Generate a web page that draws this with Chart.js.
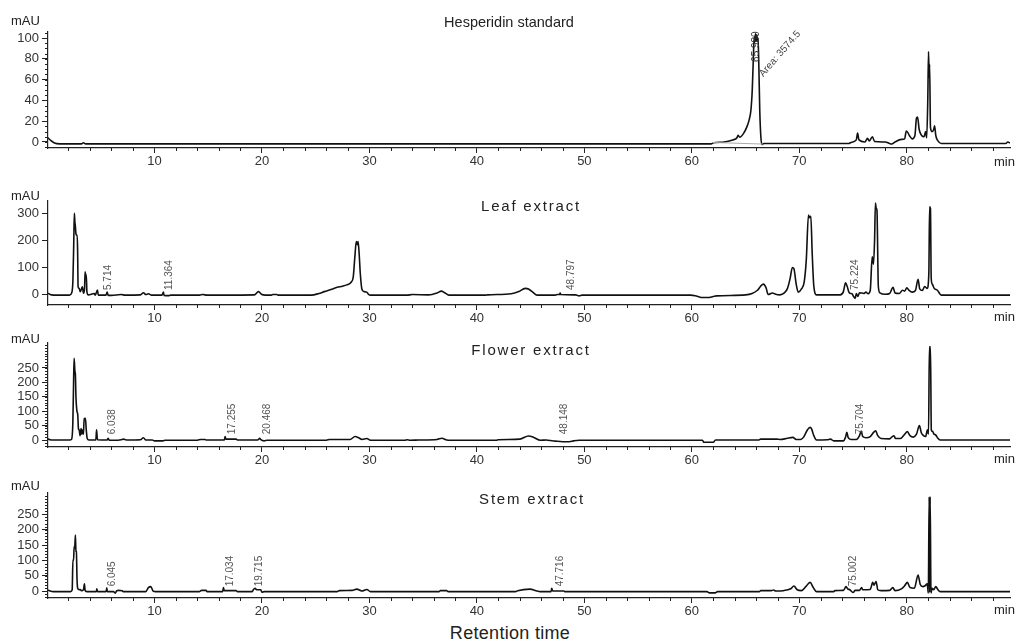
<!DOCTYPE html>
<html>
<head>
<meta charset="utf-8">
<script src="https://cdn.jsdelivr.net/npm/chart.js@4.4.1/dist/chart.umd.min.js"></script>
<style>
html, body { margin: 0; padding: 0; background: #fff; }
#wrap { position: relative; width: 1016px; height: 644px; overflow: hidden; font-family: 'Liberation Sans', Arial, sans-serif; color: #222; }
#wrap canvas { position: absolute; left: 0; }
.ttl { position: absolute; font-size: 15px; line-height: 15px; letter-spacing: 1.8px; transform: translateX(-50%); white-space: nowrap; }
.unit { position: absolute; left: 11px; font-size: 13px; line-height: 13px; }
.min { position: absolute; left: 994px; font-size: 13px; line-height: 13px; }
.xlabel { position: absolute; font-size: 18px; line-height: 18px; letter-spacing: 0.3px; transform: translateX(-50%); white-space: nowrap; }
</style>
</head>
<body>
<div id="wrap">
  <canvas id="c1" width="1016" height="150" style="top:20px"></canvas>
  <canvas id="c2" width="1016" height="138" style="top:189px"></canvas>
  <canvas id="c3" width="1016" height="138" style="top:331px"></canvas>
  <canvas id="c4" width="1016" height="139" style="top:481px"></canvas>

  <div class="ttl" style="left:509px;top:15px;font-size:14.5px;letter-spacing:0">Hesperidin standard</div>
  <div class="ttl" style="left:531px;top:198px">Leaf extract</div>
  <div class="ttl" style="left:531px;top:342px">Flower extract</div>
  <div class="ttl" style="left:532px;top:491px">Stem extract</div>

  <div class="unit" style="top:14px">mAU</div>
  <div class="unit" style="top:189px">mAU</div>
  <div class="unit" style="top:332px">mAU</div>
  <div class="unit" style="top:479px">mAU</div>

  <div class="min" style="top:155px">min</div>
  <div class="min" style="top:310px">min</div>
  <div class="min" style="top:452px">min</div>
  <div class="min" style="top:603px">min</div>

  <div class="xlabel" style="left:510px;top:624px">Retention time</div>
</div>

<script>
// ——— DATA ———
// retention time axis (min)
const xMin = 0.1, xMax = 89.6;
const xMajorTicks = [10, 20, 30, 40, 50, 60, 70, 80];

// y tick labels per panel (mAU)
const hespYTicks = [0, 20, 40, 60, 80, 100];
const leafYTicks = [0, 100, 200, 300];
const flowerYTicks = [0, 50, 100, 150, 200, 250];
const stemYTicks = [0, 50, 100, 150, 200, 250];

// traces: [time (min), absorbance (mAU)]
const hesperidinTrace = [
    [0.1, 4], [0.35, 1.5], [0.7, -1], [1.2, -1.8], [3.2, -1.8], [3.4, -0.8], [3.6, -1.8], [20, -1.8], [40, -1.8],
    [61.8, -1.8], [62.0, -0.8], [63.0, 0], [63.8, 2], [64.2, 4], [64.3, 6.5], [64.45, 4.5], [64.8, 8], [65.1, 14],
    [65.35, 22], [65.5, 31], [65.62, 50], [65.72, 80], [65.8, 101], [65.86, 96], [65.92, 104], [65.98, 97],
    [66.04, 103], [66.1, 98], [66.16, 100], [66.24, 70], [66.32, 30], [66.42, 5], [66.52, -2.5], [66.7, -1.5],
    [74.6, -1.5], [74.8, -0.5], [75.3, 2], [75.42, 8.5], [75.55, 2], [76.1, 0], [76.35, 3.5], [76.5, 1], [76.8, 5],
    [77.0, 0.5], [78.0, 0], [78.4, -1.5], [78.6, -2], [78.9, 0], [79.5, 2.5], [79.8, 3], [79.95, 10.5], [80.1, 9],
    [80.25, 6], [80.5, 3], [80.75, 6], [80.9, 23], [81.0, 24], [81.15, 12], [81.4, 6], [81.6, 5], [81.75, 10],
    [81.85, 4], [81.95, 40], [82.02, 87], [82.08, 62], [82.12, 75], [82.2, 14], [82.35, 10], [82.5, 12],
    [82.58, 15.5], [82.7, 6], [82.9, 1], [83.2, -1.5], [89.2, -1.5], [89.4, 0], [89.6, -1]
];
// grey integration baseline under the hesperidin peak
const hespBaseline = [[61.9, -0.5], [66.6, -2]];

const leafTrace = [
    [0.1, 4], [0.3, -1], [0.6, -3], [2.1, -3], [2.3, 5], [2.42, 53], [2.5, 200], [2.55, 301], [2.6, 270], [2.65, 252],
    [2.7, 225], [2.76, 220], [2.82, 220], [2.86, 150], [2.9, 28], [3.0, 22], [3.1, 10], [3.2, 18], [3.3, 28],
    [3.4, 4], [3.5, 20], [3.55, 84], [3.62, 70], [3.66, 73], [3.72, 10], [3.85, -2], [4.4, 3], [4.5, -3],
    [4.7, 16], [4.78, -3], [5.5, -3], [5.6, 8], [5.7, -4], [6.0, -4], [6.9, -1], [7.3, -3], [8.7, -2], [8.98, 6],
    [9.2, -1], [9.45, 2], [9.7, -3], [10.7, -3], [10.84, 8], [10.9, -4], [11.3, -5], [11.5, -3], [14.2, -3],
    [14.5, -1], [14.9, -3], [16.5, -3], [19.3, -2], [19.68, 10], [20.0, -1], [20.3, -3], [20.9, -3], [21.0, -1],
    [21.4, -1], [21.5, -3], [24.6, -3], [25.3, 3], [25.8, 10], [26.5, 19], [27.0, 26], [27.5, 30], [27.9, 35],
    [28.3, 45], [28.5, 65], [28.65, 140], [28.78, 196], [28.88, 185], [28.95, 196], [29.05, 150], [29.15, 80],
    [29.3, 20], [29.5, 10], [29.75, 8], [29.95, -1], [30.1, -3], [33.5, -3], [34.0, -1], [35.5, -2], [36.3, 5],
    [36.7, 12], [37.0, 6], [37.4, -3], [40.8, -3], [41.0, -2], [43.2, 2], [43.9, 10], [44.5, 22], [44.8, 20],
    [45.2, 8], [45.6, -3], [47.3, -3], [47.5, -1], [47.7, -1], [47.75, 5], [47.8, -1], [49.2, -2], [49.5, -6],
    [49.8, -3], [59.9, -3], [60.4, -6], [61.0, -12], [61.5, -12], [62.0, -8], [62.3, -6], [65.0, -2], [65.6, 3],
    [66.1, 15], [66.4, 30], [66.65, 38], [66.9, 25], [67.1, -1], [67.5, 5], [67.8, 0], [68.2, -2], [68.6, 5],
    [68.9, 22], [69.15, 60], [69.35, 100], [69.5, 95], [69.7, 40], [69.9, 8], [70.2, 20], [70.45, 45],
    [70.65, 130], [70.85, 295], [70.95, 285], [71.07, 290], [71.2, 150], [71.35, 30], [71.6, -2], [73.8, -2],
    [74.1, 10], [74.3, 43], [74.45, 30], [74.65, 5], [74.9, 2], [75.05, -8], [75.2, -15], [75.3, 3], [75.45, -8],
    [75.6, 6], [76.0, 3], [76.2, 8], [76.4, 2], [76.6, 15], [76.78, 140], [76.9, 112], [77.0, 200], [77.08, 340],
    [77.15, 320], [77.22, 314], [77.35, 30], [77.5, 5], [78.0, 0], [78.4, 3], [78.72, 26], [78.9, 5], [79.3, 3],
    [79.6, 15], [79.8, 12], [80.0, 24], [80.2, 15], [80.5, 8], [80.8, 14], [81.05, 56], [81.2, 20], [81.45, 14],
    [81.65, 29], [81.9, 22], [82.05, 80], [82.12, 326], [82.2, 320], [82.27, 60], [82.38, 37], [82.55, 22],
    [82.85, 15], [83.2, -3], [89.6, -3]
];

const flowerTrace = [
    [0.1, 4], [0.3, 1], [0.6, 0], [2.1, 0], [2.3, 3], [2.41, 58], [2.48, 200], [2.53, 284], [2.6, 240], [2.65, 226],
    [2.7, 150], [2.78, 104], [2.83, 95], [2.87, 87], [2.93, 40], [3.0, 35], [3.08, 15], [3.18, 40], [3.26, 20],
    [3.34, 35], [3.4, 20], [3.46, 75], [3.52, 72], [3.58, 75], [3.66, 35], [3.75, 5], [3.9, 0], [4.55, 0],
    [4.62, 35], [4.7, 1], [5.6, 0], [5.7, 6], [5.8, -1], [6.3, -1], [6.9, 1], [7.1, 3], [7.4, 0], [8.7, 1],
    [8.98, 8], [9.2, 0], [9.8, 0], [10.0, -3], [10.8, -3], [11.0, -1], [14.0, -1], [14.3, 2], [14.7, 2], [14.8, 0],
    [16.5, 0], [16.58, 12], [16.65, 3], [17.6, 3], [17.75, 0], [19.6, 0], [19.8, 6], [19.9, 1], [20.2, -3],
    [20.5, -1], [26.0, -1], [26.3, 2], [28.2, 2], [28.67, 12], [29.0, 8], [29.3, 2], [29.76, 5], [30.1, -1],
    [33.3, -1], [33.5, 1], [33.8, -1], [34.6, 0], [36.3, 2], [36.74, 6], [37.2, 0], [37.5, -1], [41.8, -1],
    [42.0, 1], [44.0, 3], [44.8, 14], [45.3, 9], [45.9, -1], [46.5, 0], [46.6, -1], [47.3, -4], [48.0, -6],
    [48.6, -6], [49.0, -3], [49.5, -1], [61.0, -1], [61.1, -8], [62.0, -8], [62.2, 0], [66.2, 0], [66.4, 3],
    [67.9, 3], [68.2, 2], [68.8, 5], [69.4, 9], [69.7, 2], [70.1, 2], [70.4, 10], [70.75, 35], [71.0, 44],
    [71.15, 38], [71.3, 20], [71.6, 0], [72.6, 1], [72.9, 3], [73.2, -3], [74.1, -3], [74.3, 10], [74.42, 27],
    [74.55, 8], [74.8, 2], [75.3, 2], [75.6, 15], [75.75, 31], [75.9, 12], [76.2, 8], [76.6, 12], [76.95, 28],
    [77.1, 32], [77.3, 15], [77.6, 5], [78.4, 4], [78.65, 12], [78.8, 15], [78.95, 5], [79.4, 5], [79.8, 20],
    [80.05, 29], [80.3, 15], [80.6, 10], [80.9, 20], [81.17, 50], [81.35, 25], [81.5, 17], [81.75, 12],
    [81.92, 35], [82.02, 20], [82.1, 324], [82.2, 324], [82.28, 35], [82.4, 30], [82.5, 22], [82.7, 17],
    [82.85, 8], [83.1, 0], [89.6, 0]
];

const stemTrace = [
    [0.1, 4], [0.3, 1], [0.6, -1], [2.2, -1], [2.35, 5], [2.42, 102], [2.48, 100], [2.53, 145], [2.58, 140],
    [2.65, 183], [2.7, 130], [2.74, 129], [2.8, 40], [2.86, 10], [3.0, 5], [3.1, 6], [3.2, 2], [3.4, 5],
    [3.49, 24], [3.55, 3], [3.7, -1], [4.6, -1], [4.64, 8], [4.7, -1], [5.5, -1], [5.57, 11], [5.62, -1],
    [6.2, -1], [6.35, -6], [6.5, 2], [6.66, 3], [7.0, 2], [7.1, -1], [9.2, -1], [9.44, 12], [9.66, 15],
    [9.9, 0], [10.1, -1], [14.2, -1], [14.4, 3], [14.8, 3], [14.9, -1], [16.35, -1], [16.42, 12], [16.5, 2],
    [17.6, 2], [17.7, -1], [19.1, -1], [19.2, 5], [19.37, 10], [19.5, 5], [19.9, 5], [20.0, -3], [20.2, -1],
    [27.0, -1], [27.2, 2], [28.4, 3], [28.83, 7], [29.3, 1], [29.76, 6], [30.1, -1], [36.5, -1], [36.6, 2],
    [37.2, 2], [37.3, -1], [43.6, -1], [43.8, 2], [44.95, 7], [45.5, 2], [45.9, -1], [46.9, -1], [46.97, 10],
    [47.05, 1], [48.1, 1], [48.2, -1], [61.4, -1], [61.6, -5], [62.2, -5], [62.4, -1], [66.3, -1], [66.4, 2],
    [67.4, 2], [67.6, 4], [67.8, 1], [68.5, 2], [69.2, 8], [69.5, 17], [69.8, 5], [70.2, 2], [70.6, 15],
    [71.0, 29], [71.3, 12], [71.6, -1], [73.2, -1], [73.3, 2], [74.1, 3], [74.35, 15], [74.5, 8], [74.7, 5],
    [75.0, -4], [75.2, 3], [75.6, 3], [75.8, 12], [75.9, 5], [76.6, 6], [76.83, 29], [76.95, 20], [77.14, 32],
    [77.3, 5], [77.6, 2], [78.4, 3], [78.7, 12], [78.9, 2], [79.5, 8], [79.8, 18], [80.05, 29], [80.3, 12],
    [80.7, 10], [81.05, 53], [81.25, 22], [81.5, 15], [81.7, 18], [81.9, 24], [82.0, -6], [82.08, 307],
    [82.13, -4], [82.17, 307], [82.25, -6], [82.35, 10], [82.5, 5], [82.7, 15], [82.9, 5], [83.1, -1], [89.6, -1]
];

// integrated peak retention times printed on the traces
const hespPeakTimes = [65.980];
const hespPeakArea = 3574.5;
const leafPeakTimes = [5.714, 11.364, 48.797, 75.224];
const flowerPeakTimes = [6.038, 17.255, 20.468, 48.148, 75.704];
const stemPeakTimes = [6.045, 17.034, 19.715, 47.716, 75.002];

// ——— PLUGINS ———
const INK = '#222';
const FONT = "'Liberation Sans', Arial, sans-serif";

// short minor ticks on both axes
const minorTicks = {
    id: 'minorTicks',
    afterDraw(chart, args, opts) {
        const { ctx, chartArea, scales: { x, y } } = chart;
        ctx.save();
        ctx.strokeStyle = INK;
        ctx.lineWidth = 1;
        ctx.beginPath();
        for (let v = 2; v < xMax; v += 2) {
            if (v % 10 === 0) continue;
            const px = Math.round(x.getPixelForValue(v)) + 0.5;
            ctx.moveTo(px, chartArea.bottom);
            ctx.lineTo(px, chartArea.bottom + 3);
        }
        if (opts.yStep) {
            for (let v = Math.ceil(y.min / opts.yStep) * opts.yStep; v <= y.max; v += opts.yStep) {
                const py = Math.round(y.getPixelForValue(v)) + 0.5;
                ctx.moveTo(chartArea.left - 3, py);
                ctx.lineTo(chartArea.left, py);
            }
        }
        ctx.stroke();
        ctx.restore();
    }
};

// vertical retention-time labels (and the area note on the standard)
const peakLabels = {
    id: 'peakLabels',
    afterDatasetsDraw(chart, args, opts) {
        const { ctx, scales: { x, y } } = chart;
        ctx.save();
        ctx.font = '10px ' + FONT;
        ctx.textBaseline = 'middle';
        ctx.textAlign = 'left';
        (opts.times || []).forEach(t => {
            ctx.save();
            ctx.translate(x.getPixelForValue(t), y.getPixelForValue(opts.base));
            ctx.rotate(-Math.PI / 2);
            ctx.fillStyle = opts.color || '#555';
            ctx.fillText(t.toFixed(3), 0, 0);
            ctx.restore();
        });
        if (opts.area) {
            ctx.save();
            ctx.translate(x.getPixelForValue(opts.area.t), y.getPixelForValue(opts.area.v));
            ctx.rotate(-49 * Math.PI / 180);
            ctx.fillStyle = '#444';
            ctx.fillText('Area: ' + opts.area.value, 0, 0);
            ctx.restore();
        }
        ctx.restore();
    }
};

// ——— CHARTS ———
function makePanel(id, cfg) {
    const datasets = [{
        data: cfg.trace.map(p => ({ x: p[0], y: p[1] })),
        borderColor: '#111',
        borderWidth: 1.6,
        pointRadius: 0,
        cubicInterpolationMode: 'monotone',
        fill: false
    }];
    if (cfg.baseline) {
        datasets.unshift({
            data: cfg.baseline.map(p => ({ x: p[0], y: p[1] })),
            borderColor: '#aaa',
            borderWidth: 1,
            pointRadius: 0,
            fill: false
        });
    }
    return new Chart(document.getElementById(id), {
        type: 'line',
        data: { datasets },
        options: {
            responsive: false,
            animation: false,
            layout: { padding: { top: 12, right: 6, left: 0, bottom: 0 } },
            plugins: {
                legend: { display: false },
                tooltip: { enabled: false },
                minorTicks: { yStep: cfg.yStep },
                peakLabels: { times: cfg.peaks, base: cfg.labelBase, color: cfg.labelColor, area: cfg.area }
            },
            scales: {
                x: {
                    type: 'linear',
                    min: xMin,
                    max: xMax,
                    afterBuildTicks: s => { s.ticks = xMajorTicks.map(v => ({ value: v })); },
                    afterFit: s => { s.height = 22; },
                    grid: { display: true, drawOnChartArea: false, drawTicks: true, tickLength: 5, color: INK },
                    border: { display: true, color: INK, width: 1.2 },
                    ticks: { font: { family: FONT, size: 13 }, color: '#333', padding: 1, maxRotation: 0, autoSkip: false }
                },
                y: {
                    type: 'linear',
                    min: cfg.yMin,
                    max: cfg.yMax,
                    afterBuildTicks: s => { s.ticks = cfg.yTicks.map(v => ({ value: v })); },
                    afterFit: s => { s.width = 48; },
                    grid: { display: true, drawOnChartArea: false, drawTicks: true, tickLength: 6, color: INK },
                    border: { display: true, color: INK, width: 1.2 },
                    ticks: { font: { family: FONT, size: 13 }, color: '#333', padding: 3, autoSkip: false }
                }
            }
        },
        plugins: [minorTicks, peakLabels]
    });
}

makePanel('c1', {
    trace: hesperidinTrace, baseline: hespBaseline,
    yMin: -5.8, yMax: 105.8, yTicks: hespYTicks, yStep: 5,
    peaks: hespPeakTimes, labelBase: 77, labelColor: '#333',
    area: { t: 66.45, v: 64, value: hespPeakArea }
});
makePanel('c2', {
    trace: leafTrace,
    yMin: -39.8, yMax: 347.2, yTicks: leafYTicks, yStep: 0,
    peaks: leafPeakTimes, labelBase: 16
});
makePanel('c3', {
    trace: flowerTrace,
    yMin: -24.3, yMax: 336.8, yTicks: flowerYTicks, yStep: 10,
    peaks: flowerPeakTimes, labelBase: 20
});
makePanel('c4', {
    trace: stemTrace,
    yMin: -21.8, yMax: 319.2, yTicks: stemYTicks, yStep: 10,
    peaks: stemPeakTimes, labelBase: 16
});
</script>
</body>
</html>
